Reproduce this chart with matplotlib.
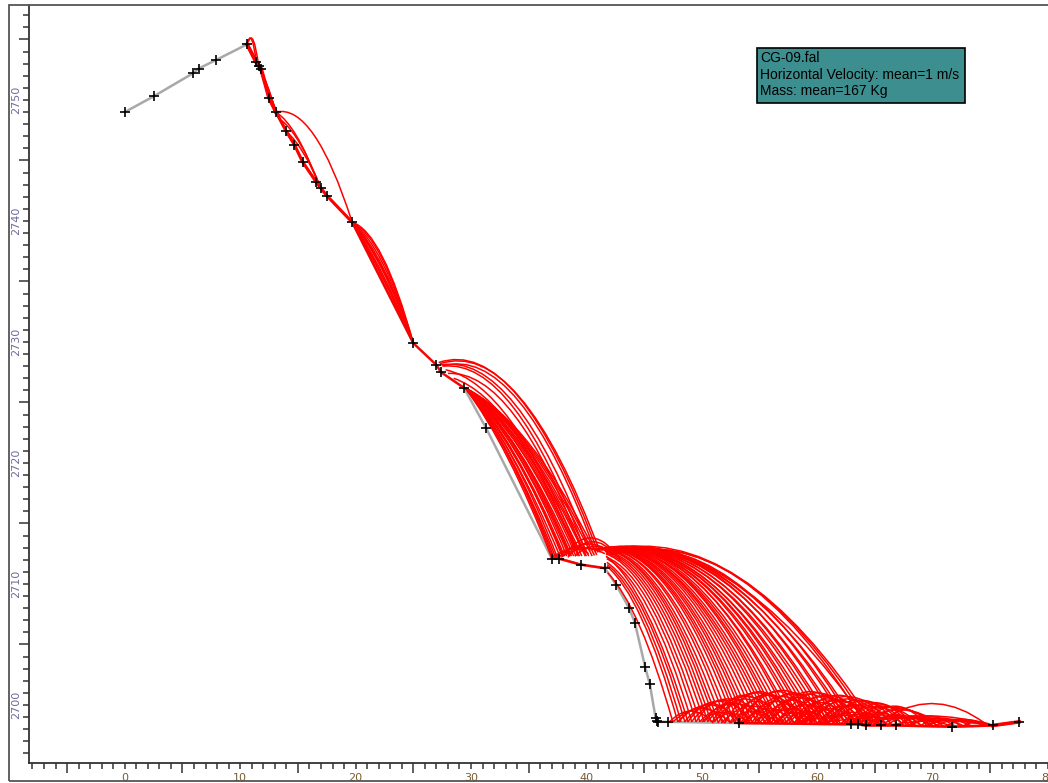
import matplotlib
matplotlib.use("Agg")
import matplotlib.pyplot as plt
from matplotlib.path import Path
from matplotlib.patches import PathPatch, Rectangle
from matplotlib.ticker import MultipleLocator, FuncFormatter, NullFormatter

# slope profile, distance (m) / elevation (m)
profile_x = [0.0, 2.5, 5.9, 6.4, 7.9, 10.6, 11.4, 11.6, 11.8, 12.5, 13.1, 14.0, 14.7,
             15.4, 16.6, 17.0, 17.5, 19.7, 25.0, 27.0, 27.4, 29.4, 31.3, 37.0, 37.6,
             39.5, 41.6, 42.6, 43.7, 44.2, 45.1, 45.5, 46.0, 46.1, 46.2, 47.1, 53.2,
             62.9, 63.5, 64.2, 65.5, 66.8, 71.7, 75.2, 77.5]
profile_y = [2749.0, 2750.3, 2752.2, 2752.6, 2753.3, 2754.6, 2753.1, 2752.8, 2752.6,
             2750.2, 2749.0, 2747.4, 2746.3, 2744.9, 2743.2, 2742.7, 2742.1, 2739.9,
             2729.9, 2728.1, 2727.5, 2726.2, 2722.9, 2712.1, 2712.1, 2711.6, 2711.3,
             2709.9, 2708.0, 2706.8, 2703.1, 2701.7, 2698.9, 2698.7, 2698.6, 2698.6,
             2698.5, 2698.4, 2698.4, 2698.3, 2698.3, 2698.3, 2698.2, 2698.3, 2698.6]

# jump arcs: (x start, y start, x end, y end, height at mid distance)
top_arcs = [
    (10.6, 2754.6, 11.4, 2753.1, 2755.0),
    (10.7, 2754.8, 11.6, 2752.8, 2754.9),
    (11.4, 2753.1, 13.1, 2749.0, 2751.4),
    (11.6, 2752.8, 13.1, 2749.0, 2751.2),
    (13.1, 2749.0, 19.7, 2739.9, 2747.1),
    (13.1, 2749.0, 16.7, 2743.2, 2747.0),
    (13.6, 2748.3, 16.9, 2742.9, 2746.3),
    (14.0, 2747.4, 17.0, 2742.7, 2745.6),
]

mid_arcs = [
    (19.7, 2739.9, 25.0, 2729.9, 2735.0),
    (19.7, 2739.9, 25.0, 2729.9, 2735.3),
    (19.7, 2739.9, 25.0, 2729.9, 2735.4),
    (19.7, 2739.9, 25.0, 2729.9, 2735.6),
    (19.7, 2739.9, 25.0, 2729.9, 2735.9),
    (19.7, 2739.9, 25.0, 2729.9, 2736.0),
    (19.7, 2739.9, 25.0, 2729.9, 2736.2),
    (19.7, 2739.9, 25.0, 2729.9, 2736.5),
    (19.7, 2739.9, 25.0, 2729.9, 2736.8),
    (19.7, 2739.9, 25.0, 2729.9, 2737.0),
    # long jumps off the 2728 m bench
    (27.3, 2728.2, 41.2, 2712.6, 2725.4),
    (27.2, 2728.3, 41.0, 2712.6, 2725.5),
    (27.5, 2728.0, 40.8, 2712.6, 2725.1),
    (27.4, 2728.1, 40.3, 2712.7, 2724.8),
    (27.6, 2728.0, 39.9, 2712.7, 2724.5),
    (28.0, 2727.4, 39.6, 2712.8, 2723.9),
    (27.8, 2727.7, 39.2, 2712.8, 2723.4),
    (28.5, 2727.0, 39.0, 2712.8, 2722.6),
    # fan from 29.4 m
    (29.5, 2726.2, 37.0, 2712.15, 2720.3),
    (29.5, 2726.2, 37.1, 2712.15, 2720.45),
    (29.5, 2726.2, 37.2, 2712.15, 2720.5),
    (29.5, 2726.2, 37.35, 2712.15, 2720.4),
    (29.5, 2726.2, 37.5, 2712.15, 2720.6),
    (29.5, 2726.2, 37.7, 2712.3, 2720.5),
    (29.5, 2726.2, 37.9, 2712.3, 2720.8),
    (29.5, 2726.2, 38.0, 2712.3, 2720.6),
    (29.5, 2726.2, 38.1, 2712.3, 2720.7),
    (29.5, 2726.2, 38.3, 2712.3, 2720.9),
    (29.5, 2726.2, 38.5, 2712.3, 2720.8),
    (29.5, 2726.2, 38.6, 2712.3, 2720.95),
    (29.5, 2726.2, 38.7, 2712.3, 2721.0),
    (29.5, 2726.2, 38.9, 2712.3, 2720.9),
    (29.5, 2726.2, 39.1, 2712.3, 2721.1),
    (29.5, 2726.2, 39.3, 2712.3, 2721.0),
    (29.5, 2726.2, 39.4, 2712.3, 2721.15),
    (29.5, 2726.2, 39.6, 2712.3, 2721.2),
    (29.5, 2726.2, 39.9, 2712.3, 2721.1),
    (29.5, 2726.2, 40.0, 2712.3, 2721.25),
    (29.5, 2726.2, 40.2, 2712.3, 2721.3),
    (29.5, 2726.2, 40.5, 2712.3, 2721.3),
    (29.5, 2726.2, 40.7, 2712.35, 2721.35),
    (29.5, 2726.2, 40.9, 2712.4, 2721.4),
    # small hops on the 2712 m ledge
    (37.0, 2712.2, 41.6, 2712.5, 2713.0),
    (37.6, 2712.2, 42.2, 2712.6, 2713.3),
    (38.0, 2712.3, 43.0, 2711.9, 2713.8),
    (38.4, 2712.2, 42.6, 2712.3, 2713.5),
    (37.3, 2712.2, 40.2, 2712.5, 2712.9),
    (39.0, 2712.3, 42.4, 2712.4, 2713.1),
    (37.8, 2712.2, 41.2, 2712.7, 2712.9),
]

ledge_arcs = [
    (42.03, 2712.41, 64.38, 2698.6, 2710.51),
    (42.46, 2712.45, 64.04, 2698.6, 2710.45),
    (42.20, 2712.53, 63.00, 2698.6, 2710.36),
    (42.03, 2712.59, 62.39, 2698.6, 2710.29),
    (42.20, 2712.60, 61.61, 2698.6, 2710.26),
    (42.03, 2712.65, 60.92, 2698.6, 2710.18),
    (41.85, 2712.66, 60.23, 2698.6, 2710.17),
    (42.03, 2712.72, 59.53, 2698.6, 2710.06),
    (41.85, 2712.71, 58.93, 2698.6, 2710.08),
    (41.68, 2712.72, 58.32, 2698.6, 2710.06),
    (41.85, 2712.74, 57.63, 2698.6, 2710.02),
    (41.59, 2712.77, 56.93, 2698.6, 2709.95),
    (41.68, 2712.78, 56.33, 2698.6, 2709.93),
    (41.51, 2712.82, 55.72, 2698.6, 2709.81),
    (41.68, 2712.83, 55.03, 2698.6, 2709.75),
    (41.59, 2712.86, 54.33, 2698.6, 2709.67),
    (41.51, 2712.87, 53.73, 2698.6, 2709.63),
    (41.51, 2712.88, 53.12, 2698.6, 2709.54),
    (41.42, 2712.89, 52.43, 2698.6, 2709.43),
    (41.51, 2712.89, 51.73, 2698.6, 2709.20),
    (41.59, 2712.87, 51.13, 2698.6, 2709.00),
    (41.68, 2712.65, 50.52, 2698.6, 2708.66),
    (41.68, 2712.49, 49.83, 2698.6, 2708.36),
    (41.77, 2712.08, 49.13, 2698.6, 2707.84),
    (41.77, 2711.79, 48.53, 2698.6, 2707.40),
    (41.77, 2711.47, 47.92, 2698.6, 2707.02),
    (41.85, 2710.92, 47.49, 2698.6, 2706.41),
    (40.5, 2712.85, 64.2, 2698.6, 2710.4),
    (40.9, 2712.8, 62.7, 2698.6, 2710.5),
    (41.2, 2712.8, 61.2, 2698.6, 2710.4),
    (41.0, 2712.85, 59.9, 2698.6, 2710.3),
    (41.3, 2712.8, 58.6, 2698.6, 2710.2),
    (41.1, 2712.9, 57.3, 2698.6, 2710.2),
    (41.3, 2712.85, 56.6, 2698.6, 2710.1),
    (41.2, 2712.9, 55.4, 2698.6, 2710.0),
    (41.4, 2712.85, 54.7, 2698.6, 2709.85),
    (41.3, 2712.9, 54.0, 2698.6, 2709.8),
    (41.4, 2712.9, 52.8, 2698.6, 2709.6),
    (41.3, 2712.95, 52.1, 2698.6, 2709.5),
    (41.6, 2712.7, 50.8, 2698.6, 2708.9),
    (41.7, 2712.3, 48.8, 2698.6, 2707.6),
    (41.9, 2712.8, 64.7, 2698.6, 2710.5),
    (41.45, 2712.85, 63.3, 2698.6, 2710.4),
    (41.75, 2712.75, 61.9, 2698.6, 2710.25),
    (41.55, 2712.8, 60.6, 2698.6, 2710.2),
    (41.65, 2712.8, 59.2, 2698.6, 2710.1),
    (41.5, 2712.85, 57.9, 2698.6, 2710.05),
    (41.6, 2712.85, 56.0, 2698.6, 2709.85),
    (41.45, 2712.9, 53.4, 2698.6, 2709.6),
    (41.55, 2712.8, 51.4, 2698.6, 2709.1),
    (41.7, 2712.55, 50.2, 2698.6, 2708.5),
    (41.75, 2712.2, 49.5, 2698.6, 2708.1),
    (41.8, 2711.6, 48.2, 2698.6, 2707.2),
]

bounce_arcs = [
    (47.5, 2698.6, 52.5, 2698.5, 2699.7),
    (47.9, 2698.6, 53.5, 2698.5, 2700.0),
    (48.5, 2698.6, 54.5, 2698.5, 2700.3),
    (49.1, 2698.6, 55.6, 2698.5, 2700.5),
    (49.8, 2698.6, 56.0, 2698.5, 2700.1),
    (50.5, 2698.6, 57.2, 2698.5, 2700.7),
    (51.1, 2698.6, 58.5, 2698.5, 2701.0),
    (51.7, 2698.5, 57.0, 2698.5, 2699.9),
    (52.4, 2698.5, 59.0, 2698.5, 2700.8),
    (53.1, 2698.5, 60.8, 2698.5, 2701.2),
    (53.7, 2698.5, 59.5, 2698.5, 2700.3),
    (54.3, 2698.5, 61.5, 2698.5, 2700.9),
    (55.0, 2698.5, 62.0, 2698.5, 2700.6),
    (55.7, 2698.5, 63.2, 2698.4, 2701.1),
    (56.3, 2698.5, 61.8, 2698.5, 2700.0),
    (56.9, 2698.5, 64.0, 2698.4, 2700.7),
    (57.6, 2698.5, 63.0, 2698.4, 2700.2),
    (58.3, 2698.5, 65.5, 2698.3, 2700.8),
    (58.9, 2698.5, 64.8, 2698.3, 2700.4),
    (59.5, 2698.5, 66.0, 2698.3, 2700.5),
    (60.2, 2698.5, 65.0, 2698.3, 2699.9),
    (60.9, 2698.5, 67.0, 2698.3, 2700.3),
    (61.6, 2698.5, 66.5, 2698.3, 2700.0),
    (62.4, 2698.4, 68.0, 2698.3, 2700.1),
    (63.0, 2698.4, 67.8, 2698.3, 2699.8),
    (64.0, 2698.4, 69.5, 2698.3, 2699.9),
    (64.4, 2698.3, 70.0, 2698.3, 2699.7),
    (52.5, 2698.5, 56.5, 2698.5, 2699.5),
    (53.5, 2698.5, 58.0, 2698.5, 2699.7),
    (54.5, 2698.5, 58.8, 2698.5, 2699.6),
    (55.6, 2698.5, 60.0, 2698.5, 2699.7),
    (57.2, 2698.5, 61.0, 2698.5, 2699.5),
    (58.5, 2698.5, 62.7, 2698.4, 2699.6),
    (59.0, 2698.5, 63.5, 2698.4, 2699.7),
    (60.8, 2698.5, 65.5, 2698.3, 2699.4),
    (62.0, 2698.4, 66.2, 2698.3, 2699.3),
    (63.2, 2698.4, 67.5, 2698.3, 2699.4),
    (64.8, 2698.3, 69.0, 2698.3, 2699.2),
    (66.0, 2698.3, 70.5, 2698.2, 2699.1),
    (67.0, 2698.3, 72.0, 2698.2, 2699.1),
    (68.0, 2698.3, 73.5, 2698.2, 2698.9),
    (69.5, 2698.3, 74.5, 2698.3, 2698.8),
    (70.0, 2698.2, 75.0, 2698.3, 2698.8),
    (65.5, 2698.3, 69.8, 2698.3, 2699.0),
    (67.8, 2698.3, 72.8, 2698.2, 2698.9),
    (60.0, 2698.5, 75.2, 2698.3, 2699.0),
    (62.0, 2698.4, 75.0, 2698.3, 2698.9),
    (64.0, 2698.4, 75.2, 2698.3, 2699.1),
    (58.0, 2698.5, 72.0, 2698.2, 2699.2),
    (66.0, 2698.3, 75.2, 2698.3, 2698.7),
    (66.3, 2699.1, 74.5, 2698.5, 2700.1),
    (47.2, 2698.6, 51.0, 2698.5, 2699.5),
    (48.0, 2698.6, 52.0, 2698.5, 2699.8),
    (48.8, 2698.6, 53.0, 2698.5, 2700.1),
    (49.5, 2698.6, 54.2, 2698.5, 2700.4),
    (50.2, 2698.6, 55.0, 2698.5, 2700.2),
    (50.9, 2698.6, 56.5, 2698.5, 2700.8),
    (51.4, 2698.5, 56.0, 2698.5, 2700.5),
    (52.0, 2698.5, 58.0, 2698.5, 2701.1),
    (52.8, 2698.5, 58.6, 2698.5, 2700.9),
    (53.4, 2698.5, 59.8, 2698.5, 2701.1),
    (54.0, 2698.5, 60.0, 2698.5, 2700.7),
    (54.8, 2698.5, 61.0, 2698.5, 2701.0),
    (55.4, 2698.5, 60.5, 2698.5, 2700.4),
    (56.0, 2698.5, 62.5, 2698.4, 2700.9),
    (56.6, 2698.5, 63.5, 2698.4, 2701.0),
    (57.3, 2698.5, 64.5, 2698.4, 2700.8),
    (58.0, 2698.5, 64.0, 2698.4, 2700.5),
    (58.7, 2698.5, 66.5, 2698.3, 2700.7),
    (59.3, 2698.5, 65.2, 2698.3, 2700.3),
    (60.0, 2698.5, 67.5, 2698.3, 2700.4),
    (60.6, 2698.5, 66.0, 2698.3, 2700.0),
    (61.3, 2698.5, 68.5, 2698.3, 2700.2),
    (62.0, 2698.4, 69.0, 2698.3, 2699.9),
    (62.7, 2698.4, 70.5, 2698.2, 2699.8),
    (63.5, 2698.4, 71.0, 2698.2, 2699.6),
    (50.0, 2698.6, 53.5, 2698.5, 2699.4),
    (51.0, 2698.6, 54.0, 2698.5, 2699.3),
    (56.5, 2698.5, 59.5, 2698.5, 2699.4),
    (58.0, 2698.5, 61.0, 2698.5, 2699.3),
    (61.0, 2698.5, 64.0, 2698.4, 2699.3),
    (63.0, 2698.4, 66.0, 2698.3, 2699.1),
    (65.0, 2698.3, 68.5, 2698.3, 2699.1),
    (67.0, 2698.3, 70.0, 2698.2, 2698.9),
    (69.0, 2698.3, 72.5, 2698.2, 2698.9),
    (71.0, 2698.2, 74.8, 2698.3, 2698.7),
    (72.5, 2698.2, 75.2, 2698.3, 2698.6),
]

legend_lines = ["CG-09.fal", "Horizontal Velocity: mean=1 m/s", "Mass: mean=167 Kg"]


def add_arc(ax, arc, lw=1.1):
    # quadratic curve through start, mid-distance height and end
    x0, y0, x1, y1, ym = arc
    verts = [(x0, y0), ((x0 + x1) / 2, 2 * ym - (y0 + y1) / 2), (x1, y1)]
    path = Path(verts, [Path.MOVETO, Path.CURVE3, Path.CURVE3])
    ax.add_patch(PathPatch(path, fill=False, ec="#ff0000", lw=lw, zorder=2))


fig = plt.figure(figsize=(10.48, 7.83), dpi=100)
ax = fig.add_axes([29 / 1048, 20 / 783, 1019 / 1048, 758 / 783])

ax.plot(profile_x, profile_y, color="#a8a8a8", lw=1.8, zorder=1)

# rocks rolling along the ground
ax.plot(profile_x[5:11], profile_y[5:11], color="#ff0000", lw=2.8, zorder=2)
ax.plot(profile_x[10:18], profile_y[10:18], color="#ff0000", lw=2.2, zorder=2)
ax.plot(profile_x[17:22], profile_y[17:22], color="#ff0000", lw=1.6, zorder=2)
ax.plot(profile_x[23:27], profile_y[23:27], color="#ff0000", lw=1.8, zorder=2)
ax.plot(profile_x[36:], profile_y[36:], color="#ff0000", lw=1.8, zorder=2)
ax.plot(profile_x[43:], profile_y[43:], color="#ff0000", lw=2.6, zorder=2)

for arc in top_arcs + mid_arcs + ledge_arcs + bounce_arcs:
    add_arc(ax, arc)

ax.plot(profile_x, profile_y, ls="none", marker="+", ms=7, mew=1.2,
        color="black", zorder=3)

ax.set_xlim(-8.3, 80.0)
ax.set_ylim(2695.2, 2757.85)

for spine in ("top", "right"):
    ax.spines[spine].set_visible(False)
for spine in ("left", "bottom"):
    ax.spines[spine].set_color("#333333")
    ax.spines[spine].set_linewidth(1.3)

label10 = FuncFormatter(lambda v, p: "%d" % round(v) if abs(v % 10) < 1e-6 or abs(v % 10 - 10) < 1e-6 else "")
ax.xaxis.set_major_locator(MultipleLocator(10, offset=5))
ax.xaxis.set_minor_locator(MultipleLocator(1))
ax.yaxis.set_major_locator(MultipleLocator(10, offset=5))
ax.yaxis.set_minor_locator(MultipleLocator(1))
ax.xaxis.set_major_formatter(NullFormatter())
ax.yaxis.set_major_formatter(NullFormatter())
ax.xaxis.set_minor_formatter(label10)
ax.yaxis.set_minor_formatter(label10)

ax.tick_params(which="major", length=7, width=1.1, color="#333333", direction="out")
ax.tick_params(which="minor", length=4, width=1.1, color="#333333", direction="out",
               labelsize=8)
ax.tick_params(axis="x", which="minor", labelcolor="#7a5c2e", pad=3)
ax.tick_params(axis="y", which="minor", labelcolor="#6b6b9c", pad=2)
for lab in ax.yaxis.get_minorticklabels():
    lab.set_rotation(90)
    lab.set_va("center")
for lab in ax.get_xticklabels(minor=True) + ax.get_yticklabels(minor=True):
    lab.set_family("DejaVu Sans")

# outer frame
fig.patches.append(Rectangle((9 / 1048, 2 / 783), 1.0, 776 / 783, transform=fig.transFigure,
                             fill=False, ec="#555555", lw=1.3))

# info box
fig.patches.append(Rectangle((757 / 1048, 1 - 103 / 783), 208 / 1048, 55 / 783,
                             transform=fig.transFigure, fc="#3d8f8f", ec="black", lw=1.2,
                             zorder=5))
for i, line in enumerate(legend_lines):
    fig.text(760 / 1048, 1 - (58 + 16.5 * i) / 783, line, fontsize=10,
             family="Liberation Sans", color="black", va="center", ha="left", zorder=6)

fig.savefig("out.png", dpi=100)
